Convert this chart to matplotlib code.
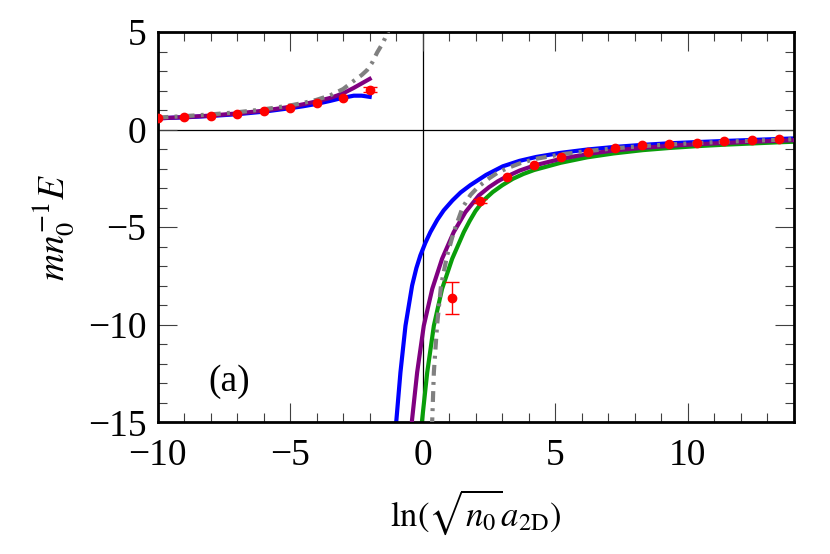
import numpy as np
import matplotlib
matplotlib.use("Agg")
import matplotlib.pyplot as plt

plt.rcParams['font.family'] = ['Liberation Serif', 'DejaVu Serif']
plt.rcParams['mathtext.fontset'] = 'stix'
plt.rcParams['font.size'] = 27

# ---- data ----
# left branch (positive energy)
blue_l_x = [-10, -9, -8, -7, -6, -5, -4.5, -4, -3.5, -3.2, -2.9, -2.6, -2.3, -2.0]
blue_l_y = [0.58, 0.63, 0.70, 0.79, 0.92, 1.10, 1.20, 1.32, 1.47, 1.57, 1.66, 1.74, 1.74, 1.68]
purple_l_x = [-10, -9, -8, -7, -6, -5, -4.5, -4, -3.5, -3.2, -2.9, -2.6, -2.3, -2.0]
purple_l_y = [0.58, 0.64, 0.72, 0.83, 0.97, 1.17, 1.30, 1.45, 1.62, 1.76, 1.93, 2.14, 2.37, 2.60]
gray_l_x = [-10, -9, -8, -7, -6, -5, -4.5, -4, -3.5, -3.0, -2.6, -2.3, -2.1, -1.9, -1.72, -1.5, -1.3]
gray_l_y = [0.62, 0.69, 0.78, 0.89, 1.04, 1.24, 1.37, 1.53, 1.75, 2.08, 2.5, 2.8, 3.05, 3.45, 3.95, 4.45, 5.05]

# right branch (negative energy)
blue_r_x = [-1.02, -0.99, -0.84, -0.65, -0.40, -0.24, -0.09, 0.10, 0.29, 0.55, 0.79, 1.12, 1.43,
            1.80, 2.39, 3.02, 3.65, 4.28, 5.2, 6.2, 7.2, 8.3, 9.3, 10.3, 11.4, 12.4, 13.4, 14.0]
blue_r_y = [-15.3, -14.84, -12.44, -10.05, -7.99, -7.1, -6.45, -5.8, -5.25, -4.62, -4.14, -3.63, -3.22,
            -2.84, -2.32, -1.88, -1.60, -1.40, -1.19, -1.02, -0.89, -0.78, -0.70, -0.64, -0.58, -0.53, -0.48, -0.45]
purple_r_x = [-0.43, -0.40, -0.21, 0.04, 0.36, 0.73, 1.17, 1.61, 2.12, 2.5, 2.83, 3.14, 3.65, 4.2,
              5.2, 6.2, 7.2, 8.3, 9.3, 10.3, 11.4, 12.4, 13.4, 14.0]
purple_r_y = [-15.3, -14.84, -12.44, -10.05, -8.16, -6.62, -5.25, -4.23, -3.37, -2.95, -2.65, -2.42, -2.1, -1.84,
              -1.5, -1.25, -1.07, -0.93, -0.83, -0.75, -0.68, -0.62, -0.57, -0.54]
green_r_x = [-0.05, -0.02, 0.17, 0.42, 0.73, 1.11, 1.55, 1.77, 1.99, 2.3, 2.64, 3.0, 3.4, 3.8, 4.2,
             5.2, 6.2, 7.2, 8.3, 9.3, 10.3, 11.4, 12.4, 13.4, 14.0]
green_r_y = [-15.3, -14.84, -12.44, -10.05, -8.16, -6.62, -5.25, -4.68, -4.17, -3.62, -3.2, -2.85, -2.52, -2.27, -2.07,
             -1.7, -1.42, -1.22, -1.05, -0.94, -0.85, -0.77, -0.71, -0.65, -0.62]
gray_r_x = [0.34, 0.36, 0.42, 0.54, 0.69, 0.92, 1.17, 1.5, 1.8, 2.1, 2.5, 2.83, 3.2, 3.7, 4.25,
            5.2, 6.2, 7.2, 8.3, 9.3, 10.3, 11.4, 12.4, 13.4, 14.0]
gray_r_y = [-15.3, -14.84, -12.44, -10.05, -7.99, -6.45, -5.25, -4.0, -3.35, -2.92, -2.5, -2.2, -1.97, -1.71, -1.5,
            -1.27, -1.1, -0.96, -0.84, -0.76, -0.69, -0.62, -0.57, -0.52, -0.49]

# data points (red)
pts_x = [-10, -9, -8, -7, -6, -5, -4, -3, -2,
         1.11, 2.15, 3.17, 4.2, 5.2, 6.25, 7.25, 8.28, 9.3, 10.33, 11.38, 12.4, 13.42]
pts_y = [0.58, 0.65, 0.72, 0.81, 0.96, 1.11, 1.35, 1.64, 2.04,
         -8.61, -3.66, -2.43, -1.79, -1.40, -1.13, -0.96, -0.81, -0.74, -0.67, -0.60, -0.55, -0.48]
pts_err = [0, 0, 0, 0, 0, 0, 0, 0, 0.12,
           0.82, 0.1, 0, 0, 0, 0, 0, 0, 0, 0, 0, 0, 0]

fig = plt.figure(figsize=(8.3, 5.54), dpi=100)
ax = fig.add_axes([0.1898, 0.2377, 0.7668, 0.7044])

ax.axhline(0, color='black', lw=0.9, zorder=1)
ax.axvline(0, color='black', lw=0.9, zorder=1)

lw = 3.0
ax.plot(blue_l_x, blue_l_y, color='#0000ff', lw=lw, zorder=2)
ax.plot(blue_r_x, blue_r_y, color='#0000ff', lw=lw, zorder=2)
ax.plot(green_r_x, green_r_y, color='#0a9e0a', lw=lw, zorder=2)
ax.plot(purple_l_x, purple_l_y, color='#800080', lw=lw, zorder=3)
ax.plot(purple_r_x, purple_r_y, color='#800080', lw=lw, zorder=3)
for gx, gy in ((gray_l_x, gray_l_y), (gray_r_x, gray_r_y)):
    ln, = ax.plot(gx, gy, color='#808080', lw=lw, zorder=4)
    ln.set_dashes([2.6, 1.5, 0.7, 1.5])

ax.plot(pts_x, pts_y, 'o', color='red', ms=6, zorder=5)
ex = [x for x, e in zip(pts_x, pts_err) if e > 0]
ey = [y for y, e in zip(pts_y, pts_err) if e > 0]
ee = [e for e in pts_err if e > 0]
ax.errorbar(ex, ey, yerr=ee, fmt='none', ecolor='red', elinewidth=1.0, capsize=5, capthick=1.0, zorder=5)

ax.set_xlim(-10, 14)
ax.set_ylim(-15, 5)
ax.set_xticks([-10, -5, 0, 5, 10])
ax.set_yticks([-15, -10, -5, 0, 5])
ax.set_xticks(np.arange(-10, 15, 1), minor=True)
ax.set_yticks(np.arange(-15, 6, 1), minor=True)
ax.tick_params(which='both', direction='in', top=True, right=True, color='#404040')
ax.tick_params(which='major', length=13.5, width=0.8)
ax.tick_params(which='minor', length=6.8, width=0.8)
ax.tick_params(axis='x', which='major', pad=12)
ax.tick_params(axis='y', which='major', pad=8)
for s in ax.spines.values():
    s.set_linewidth(2.0)

ax.text(-7.3, -12.9, '(a)', ha='center', va='center')
ax.set_xlabel(r'$\ln(\sqrt{n_0}a_{\rm 2D})$', fontsize=25, labelpad=10)
ax.set_ylabel(r'$mn_0^{-1}E$', labelpad=8)

fig.savefig('out.png', dpi=100)
